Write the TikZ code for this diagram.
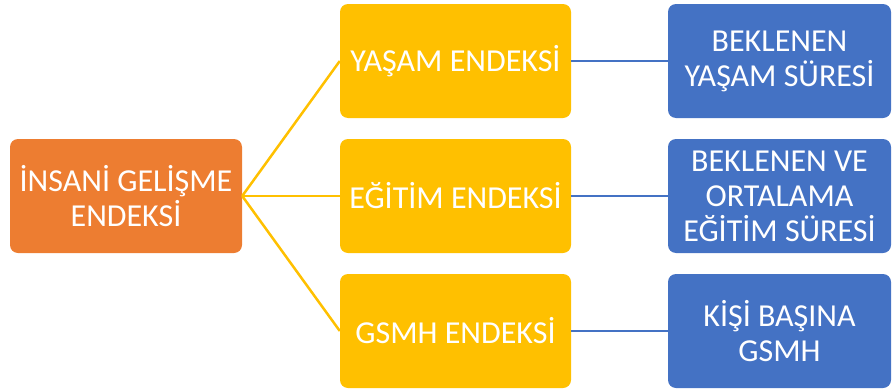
\documentclass[tikz,border=0pt]{standalone}
\usepackage{fontspec}
\setmainfont{Carlito}
\definecolor{org}{HTML}{ED7D31}
\definecolor{yel}{HTML}{FFC000}
\definecolor{blu}{HTML}{4472C4}
\begin{document}
\begin{tikzpicture}[x=1pt,y=-1pt,
  boxbase/.style={rounded corners=8pt, inner sep=0pt, text=white, align=center,
    font=\fontsize{32}{35}\selectfont},
  orgbox/.style={boxbase, fill=org, minimum width=232pt, minimum height=114pt},
  yelbox/.style={boxbase, fill=yel, minimum width=231pt, minimum height=114pt},
  blubox/.style={boxbase, fill=blu, minimum width=223pt, minimum height=114pt},
  yline/.style={draw=yel, line width=2.5pt},
  bline/.style={draw=blu, line width=2.5pt}]
\useasboundingbox (0,0) rectangle (892,391);
\node[orgbox] (o) at (126,196) {İNSANİ GELİŞME\\ENDEKSİ};
\node[yelbox] (y1) at (455.5,61) {YAŞAM ENDEKSİ};
\node[yelbox] (y2) at (455.5,196) {EĞİTİM ENDEKSİ};
\node[yelbox] (y3) at (455.5,331) {GSMH ENDEKSİ};
\node[blubox] (b1) at (779.5,61) {BEKLENEN\\YAŞAM SÜRESİ};
\node[blubox] (b2) at (779.5,196) {BEKLENEN VE\\ORTALAMA\\EĞİTİM SÜRESİ};
\node[blubox] (b3) at (779.5,331) {KİŞİ BAŞINA\\GSMH};
\draw[yline] (o.east) -- (y1.west);
\draw[yline] (o.east) -- (y2.west);
\draw[yline] (o.east) -- (y3.west);
\draw[bline] (y1.east) -- (b1.west);
\draw[bline] (y2.east) -- (b2.west);
\draw[bline] (y3.east) -- (b3.west);
\end{tikzpicture}
\end{document}
